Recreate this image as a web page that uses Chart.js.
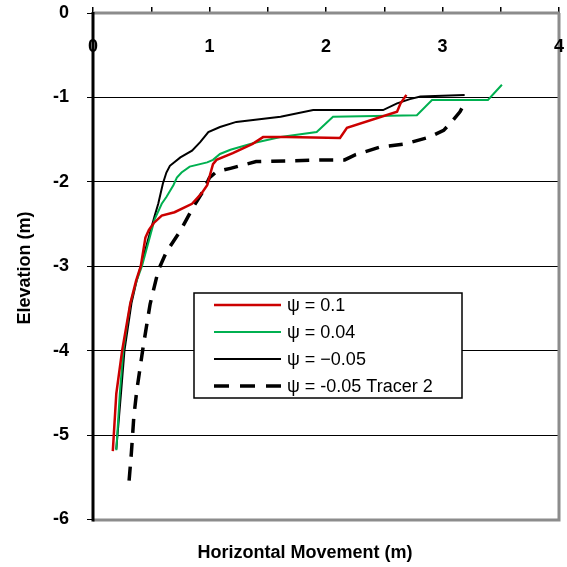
<!DOCTYPE html>
<html>
<head>
<meta charset="utf-8">
<script src="https://cdn.jsdelivr.net/npm/chart.js@4"></script>
<style>
  body { margin: 0; background: #fff; }
  canvas { display: block; }
</style>
</head>
<body>
<canvas id="chart" width="567" height="567"></canvas>
<script>
// --- Datos ---
const psi01X = [0.17, 0.20, 0.25, 0.32, 0.37, 0.41, 0.45, 0.48, 0.52, 0.59, 0.70, 0.85, 0.93, 0.98, 1.00, 1.03, 1.06, 1.20, 1.37, 1.46, 1.66, 2.12, 2.18, 2.61, 2.64, 2.69];
const psi01Y = [-5.19, -4.51, -4.00, -3.44, -3.17, -3.00, -2.66, -2.57, -2.49, -2.40, -2.36, -2.26, -2.14, -2.04, -1.94, -1.79, -1.74, -1.66, -1.55, -1.47, -1.47, -1.48, -1.36, -1.17, -1.07, -0.97];

const psi004X = [0.20, 0.23, 0.26, 0.32, 0.375, 0.42, 0.53, 0.59, 0.63, 0.69, 0.72, 0.76, 0.83, 0.98, 1.03, 1.09, 1.18, 1.38, 1.61, 1.92, 2.06, 2.78, 2.91, 3.39, 3.51];
const psi004Y = [-5.18, -4.51, -4.00, -3.44, -3.17, -3.00, -2.44, -2.26, -2.18, -2.04, -1.95, -1.89, -1.82, -1.77, -1.74, -1.67, -1.62, -1.54, -1.47, -1.41, -1.23, -1.21, -1.03, -1.03, -0.85];

const psiNegX = [0.20, 0.24, 0.27, 0.33, 0.375, 0.41, 0.53, 0.56, 0.60, 0.63, 0.66, 0.75, 0.85, 0.92, 0.99, 1.09, 1.23, 1.61, 1.89, 2.03, 2.49, 2.61, 2.72, 2.81, 3.19];
const psiNegY = [-5.17, -4.51, -4.00, -3.44, -3.17, -3.00, -2.40, -2.26, -2.02, -1.89, -1.81, -1.71, -1.63, -1.53, -1.41, -1.35, -1.29, -1.23, -1.15, -1.15, -1.15, -1.07, -1.02, -0.99, -0.97];

const tracerX = [0.31, 0.33, 0.35, 0.375, 0.43, 0.49, 0.56, 0.63, 0.75, 0.86, 0.95, 1.00, 1.06, 1.18, 1.40, 2.03, 2.16, 2.25, 2.46, 2.68, 2.89, 3.01, 3.09, 3.15, 3.19];
const tracerY = [-5.54, -5.20, -4.79, -4.48, -3.96, -3.45, -3.05, -2.83, -2.58, -2.30, -2.10, -1.95, -1.88, -1.84, -1.76, -1.74, -1.74, -1.68, -1.59, -1.55, -1.47, -1.39, -1.27, -1.17, -1.07];

const seriesLabels = ['\u03c8 = 0.1', '\u03c8 = 0.04', '\u03c8 = \u22120.05', '\u03c8 = -0.05 Tracer 2'];
const xTickValues = [0, 1, 2, 3, 4];

const toPoints = (xs, ys) => xs.map((x, i) => ({ x: x, y: ys[i] }));

// --- Plugin: bordes, etiquetas del eje X, títulos y leyenda ---
const decorPlugin = {
    id: 'decor',
    afterDraw(chart) {
        const ctx = chart.ctx;
        const a = chart.chartArea;
        const xs = chart.scales.x;
        ctx.save();

        // bordes del área de trazado
        ctx.strokeStyle = '#8c8c8c';
        ctx.lineWidth = 3;
        ctx.beginPath();
        ctx.moveTo(a.left, a.top); ctx.lineTo(a.right, a.top);
        ctx.moveTo(a.right, a.top); ctx.lineTo(a.right, a.bottom);
        ctx.moveTo(a.left, a.bottom + 0.5); ctx.lineTo(a.right + 1.5, a.bottom + 0.5);
        ctx.stroke();
        ctx.strokeStyle = '#000';
        ctx.beginPath();
        ctx.moveTo(a.left, a.top - 1); ctx.lineTo(a.left, a.bottom + 2);
        ctx.stroke();

        // etiquetas del eje X (dentro del área)
        ctx.fillStyle = '#000';
        ctx.font = 'bold 18px "Liberation Sans", Arial, sans-serif';
        ctx.textAlign = 'center';
        ctx.textBaseline = 'middle';
        xTickValues.forEach(v => ctx.fillText(String(v), xs.getPixelForValue(v), 47));

        // títulos
        ctx.font = 'bold 18px "Liberation Sans", Arial, sans-serif';
        ctx.fillText('Horizontal Movement (m)', 305, 553);
        ctx.save();
        ctx.translate(25, 268);
        ctx.rotate(-Math.PI / 2);
        ctx.fillText('Elevation (m)', 0, 0);
        ctx.restore();

        // leyenda
        const box = { left: 194, top: 293, right: 462, bottom: 398 };
        ctx.fillStyle = '#fff';
        ctx.fillRect(box.left, box.top, box.right - box.left, box.bottom - box.top);
        ctx.strokeStyle = '#000';
        ctx.lineWidth = 1.5;
        ctx.strokeRect(box.left, box.top, box.right - box.left, box.bottom - box.top);
        const rows = [305, 332, 359, 386];
        ctx.font = '18px "Liberation Sans", Arial, sans-serif';
        ctx.textAlign = 'left';
        chart.data.datasets.forEach((ds, i) => {
            ctx.strokeStyle = ds.borderColor;
            ctx.lineWidth = ds.borderWidth;
            ctx.setLineDash(ds.borderDash ? [15, 11] : []);
            ctx.beginPath();
            ctx.moveTo(214, rows[i]);
            ctx.lineTo(281, rows[i]);
            ctx.stroke();
            ctx.setLineDash([]);
            ctx.fillStyle = '#000';
            ctx.fillText(ds.label, 287, rows[i] + 1);
        });
        ctx.restore();
    }
};

const commonLine = { showLine: true, pointRadius: 0, fill: false, tension: 0 };

// quitar el relleno automático que Chart.js añade por las etiquetas
const noPad = s => { s.paddingTop = 0; s.paddingBottom = 0; s.paddingLeft = 0; s.paddingRight = 0; };

new Chart(document.getElementById('chart'), {
    type: 'scatter',
    data: {
        datasets: [
            { ...commonLine, label: seriesLabels[0], data: toPoints(psi01X, psi01Y), borderColor: '#cc0000', borderWidth: 2.5 },
            { ...commonLine, label: seriesLabels[1], data: toPoints(psi004X, psi004Y), borderColor: '#00b050', borderWidth: 2 },
            { ...commonLine, label: seriesLabels[2], data: toPoints(psiNegX, psiNegY), borderColor: '#000000', borderWidth: 2 },
            { ...commonLine, label: seriesLabels[3], data: toPoints(tracerX, tracerY), borderColor: '#000000', borderWidth: 3.5, borderDash: [14, 10] }
        ]
    },
    options: {
        responsive: false,
        animation: false,
        devicePixelRatio: 1,
        layout: { autoPadding: false, padding: { left: 0, top: 0, right: 8, bottom: 47.5 } },
        plugins: { legend: { display: false }, tooltip: { enabled: false } },
        scales: {
            x: {
                type: 'linear',
                position: 'top',
                min: 0, max: 4,
                afterFit: s => { s.height = 13; noPad(s); },
                ticks: { stepSize: 0.5, display: false },
                grid: { drawOnChartArea: false, tickLength: 6, color: '#000', lineWidth: 1.5 },
                border: { display: false }
            },
            y: {
                min: -6, max: 0,
                afterFit: s => { s.width = 93; noPad(s); },
                ticks: {
                    stepSize: 1,
                    padding: 18,
                    color: '#000',
                    font: { family: '"Liberation Sans", Arial, sans-serif', size: 18, weight: 'bold' }
                },
                grid: { color: '#000', lineWidth: 1, tickLength: 6 },
                border: { display: false }
            }
        }
    },
    plugins: [decorPlugin]
});
</script>
</body>
</html>
